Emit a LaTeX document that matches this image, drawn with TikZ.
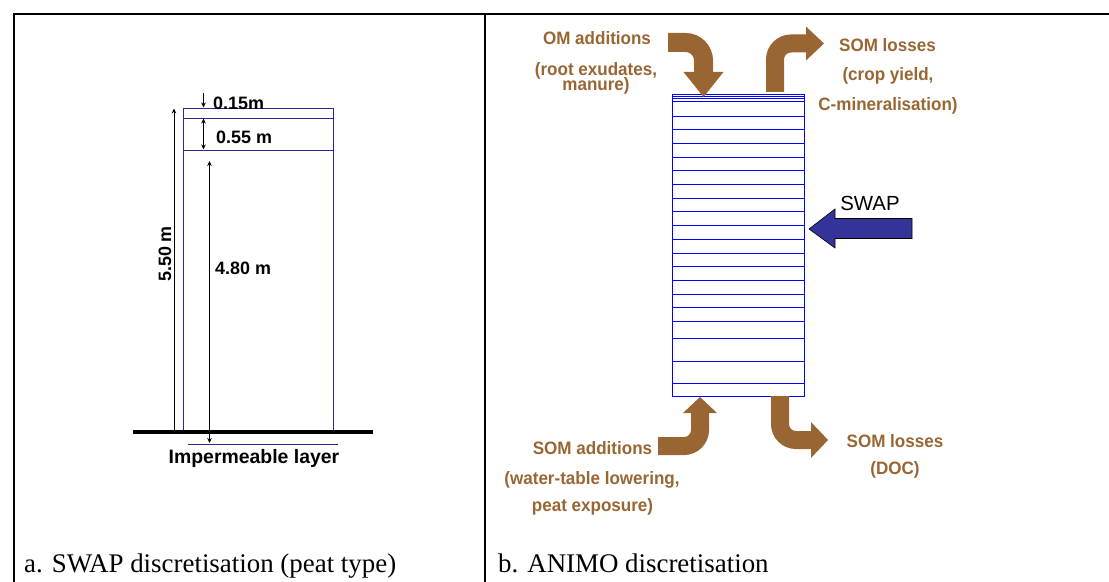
\documentclass[tikz,border=0pt]{standalone}
\usepackage{fontspec}
\setmainfont{Liberation Serif}
\newfontfamily\labfont{Liberation Sans}
\newfontfamily\brfont[FakeStretch=0.95]{Liberation Sans}
\usetikzlibrary{arrows.meta,calc}
\definecolor{brn}{RGB}{153,102,51}
\definecolor{swapnavy}{RGB}{51,51,153}
\definecolor{boxblue}{RGB}{40,40,150}
\definecolor{stk}{RGB}{0,0,255}
\begin{document}
\begin{tikzpicture}[x=1bp,y=-1bp,
  frame/.style={line width=2bp, black},
  boxline/.style={draw=boxblue, line width=0.9bp},
  dimtxt/.style={font=\labfont\bfseries\fontsize{18}{20}\selectfont, inner sep=0, anchor=west},
  brtxt/.style={font=\brfont\bfseries\fontsize{18}{20}\selectfont, text=brn, inner sep=0, anchor=base},
  captxt/.style={font=\fontsize{27}{30}\selectfont, inner sep=0, anchor=base west},
  dimarrow/.style={-{Stealth[length=5bp,width=4.5bp]}, line width=0.8bp},
  dimboth/.style={{Stealth[length=5bp,width=4.5bp]}-{Stealth[length=5bp,width=4.5bp]}, line width=0.8bp},
  brshaft/.style={draw=brn, line width=18bp, rounded corners=16bp},
  stkline/.style={draw=stk, line width=0.9bp},
]
\useasboundingbox (0,0) rectangle (1109,582);
% table frame
\draw[frame] (13.5,582) -- (13.5,14) -- (1109,14);
\draw[frame] (484.5,14) -- (484.5,582);
\node[captxt] (capa) at (24,572) {a. SWAP discretisation (peat type)};
\node[captxt] (capb) at (498,572) {b. ANIMO discretisation};

% ---------- panel a ----------
\draw[boxline] (183.5,108) rectangle (333,432);
\draw[boxline] (183.5,118) -- (333,118);
\draw[boxline] (183.5,150) -- (333,150);
\draw[line width=4bp] (133,432) -- (373,432);
\draw[boxline] (188,444) -- (338,444);
\coordinate (g550) at (174,432);
\coordinate (t550) at (174,108.5);
\draw[dimarrow] (g550) -- (t550);
\coordinate (s15) at (203.5,93);
\coordinate (e15) at (203.5,107.5);
\draw[dimarrow] (s15) -- (e15);
\coordinate (s55) at (203.5,118.5);
\coordinate (e55) at (203.5,149.5);
\draw[dimboth] (s55) -- (e55);
\coordinate (s48) at (209.5,161);
\coordinate (e48) at (209.5,443);
\draw[dimboth] (s48) -- (e48);
\node[dimtxt] (l15) at (213,103) {0.15m};
\node[dimtxt] (l55) at (216,137) {0.55 m};
\node[dimtxt] (l48) at (215,268) {4.80 m};
\node[dimtxt, rotate=90, anchor=center] (l550) at (165,254) {5.50 m};
\node[font=\labfont\bfseries\fontsize{19.5}{22}\selectfont, inner sep=0, anchor=base] (imp) at (254,463) {Impermeable layer};

% ---------- panel b ----------
% stack
\draw[stkline] (672,94) rectangle (804,396);
\foreach \yy in {96.5,98.5,101,116,129.7,143.4,157.1,170.8,184.5,198.2,211.9,225.6,239.3,253,266.7,280.4,294.1,307.8,321.5,338,361,383}
  \draw[stkline] (672,\yy) -- (804,\yy);

% OM additions arrow
\coordinate (a1s) at (668,42.5);
\coordinate (a1c) at (703.5,42.5);
\coordinate (a1b) at (703.5,73);
\coordinate (a1t) at (703.5,97);
\draw[brshaft, line width=19bp, rounded corners=18bp] (a1s) -- (a1c) -- (a1b);
\fill[brn] ($(a1b)+(-20,-1)$) -- ($(a1b)+(20,-1)$) -- (a1t) -- cycle;

% SOM losses (top) arrow
\coordinate (a2s) at (775,92);
\coordinate (a2c) at (775,43.5);
\coordinate (a2b) at (807,43.5);
\coordinate (a2t) at (824,43.5);
\draw[brshaft] (a2s) -- (a2c) -- (a2b);
\fill[brn] ($(a2b)+(-1,-17)$) -- ($(a2b)+(-1,17)$) -- (a2t) -- cycle;

% SOM additions (bottom) arrow
\coordinate (a3s) at (658,446);
\coordinate (a3c) at (700,446);
\coordinate (a3b) at (700,412);
\coordinate (a3t) at (700,397);
\draw[brshaft] (a3s) -- (a3c) -- (a3b);
\fill[brn] ($(a3b)+(-17,1)$) -- ($(a3b)+(17,1)$) -- (a3t) -- cycle;

% SOM losses (bottom) arrow
\coordinate (a4s) at (780,396);
\coordinate (a4c) at (780,440);
\coordinate (a4b) at (812,440);
\coordinate (a4t) at (828,440);
\draw[brshaft] (a4s) -- (a4c) -- (a4b);
\fill[brn] ($(a4b)+(-1,-18)$) -- ($(a4b)+(-1,18)$) -- (a4t) -- cycle;

% SWAP arrow
\coordinate (swt) at (809,229);
\draw[fill=swapnavy, draw=black, line width=0.6bp] (swt) -- (835,209) -- (835,218.5) -- (912,218.5) -- (912,238.5) -- (835,238.5) -- (835,248) -- cycle;
\node[font=\labfont\fontsize{20.5}{24}\selectfont, inner sep=0, anchor=base] (swap) at (870,210.5) {SWAP};

% brown texts
\node[brtxt] (t1a) at (597,45) {OM additions};
\node[brtxt] (t1b) at (596,75.5) {(root exudates,};
\node[brtxt] (t1c) at (596,91) {manure)};
\node[brtxt] (t2a) at (887.5,51.5) {SOM losses};
\node[brtxt] (t2b) at (888,81) {(crop yield,};
\node[brtxt] (t2c) at (888,110.5) {C-mineralisation)};
\node[brtxt] (t3a) at (592.5,454) {SOM additions};
\node[brtxt] (t3b) at (592,484) {(water-table lowering,};
\node[brtxt] (t3c) at (592.5,511) {peat exposure)};
\node[brtxt] (t4a) at (895,447) {SOM losses};
\node[brtxt] (t4b) at (895,474) {(DOC)};
\end{tikzpicture}
\end{document}
